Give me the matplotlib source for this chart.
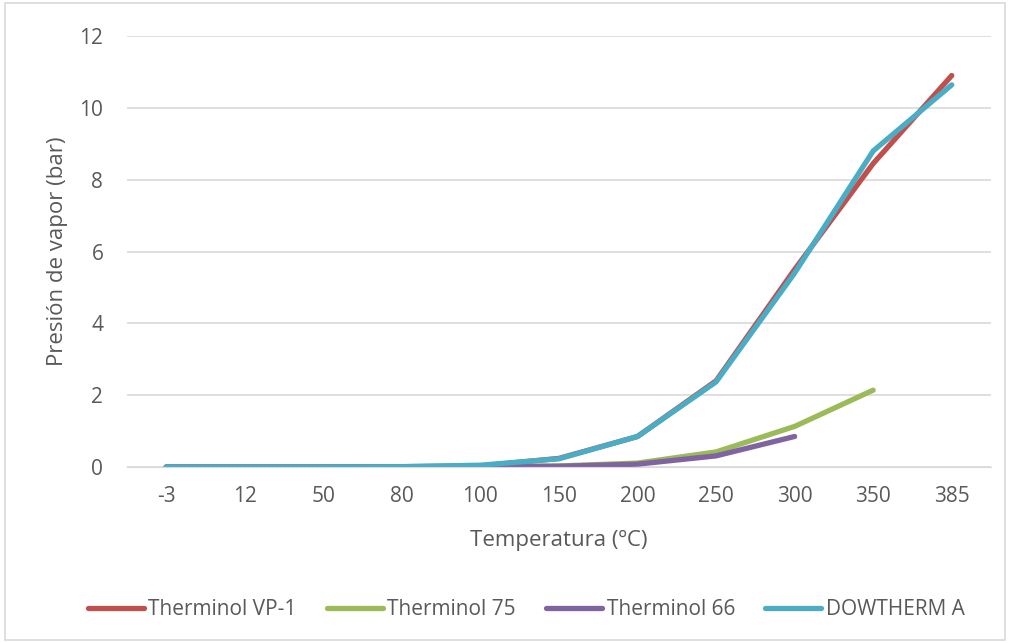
import matplotlib.pyplot as plt
from matplotlib.patches import Rectangle

temps = ['-3', '12', '50', '80', '100', '150', '200', '250', '300', '350', '385']
vp1 = [0, 0, 0, 0.01, 0.03, 0.24, 0.85, 2.4, 5.5, 8.45, 10.9]
t75 = [0, 0, 0, 0, 0.01, 0.03, 0.11, 0.42, 1.13, 2.14]
t66 = [0, 0, 0, 0, 0.01, 0.02, 0.08, 0.31, 0.85]
dowtherm = [0, 0, 0, 0.01, 0.05, 0.23, 0.85, 2.37, 5.4, 8.8, 10.64]

series = [
    ('Therminol VP-1', vp1, '#C0504D'),
    ('Therminol 75', t75, '#9BBB59'),
    ('Therminol 66', t66, '#8064A2'),
    ('DOWTHERM A', dowtherm, '#4BACC6'),
]

plt.rcParams['font.family'] = ['Open Sans', 'DejaVu Sans']
fig = plt.figure(figsize=(10.1, 6.43), dpi=100)
fig.patches.append(Rectangle((0.005, 0.004), 0.99, 0.992, transform=fig.transFigure,
                             fill=False, edgecolor='#D9D9D9', lw=1.2))
ax = fig.add_axes([0.1257, 0.2737, 0.8555, 0.6703])

for label, vals, color in series:
    ax.plot(range(len(vals)), vals, color=color, lw=3.8, label=label,
            solid_capstyle='round', solid_joinstyle='round')

ax.set_xlim(-0.5, len(temps) - 0.5)
ax.set_ylim(0, 12)
ax.set_yticks(range(0, 13, 2))
ax.set_xticks(range(len(temps)))
ax.set_xticklabels(temps)
ax.grid(axis='y', color='#D9D9D9', lw=1.2)
ax.set_axisbelow(True)
for side in ['top', 'right', 'left']:
    ax.spines[side].set_visible(False)
ax.spines['bottom'].set_color('#D9D9D9')
ax.tick_params(length=0, labelsize=15, colors='#595959')
ax.tick_params(axis='x', pad=14)
ax.tick_params(axis='y', pad=17)
ax.set_xlabel('Temperatura (ºC)', fontsize=16, color='#595959', labelpad=16)
ax.set_ylabel('Presión de vapor (bar)', fontsize=16, color='#595959', labelpad=8)

fig.legend(loc='center', bbox_to_anchor=(0.521, 0.052), ncol=4, frameon=False,
           fontsize=15, labelcolor='#595959', handlelength=2.7, handletextpad=0.2,
           columnspacing=1.45)

fig.savefig('out.png', dpi=100)
